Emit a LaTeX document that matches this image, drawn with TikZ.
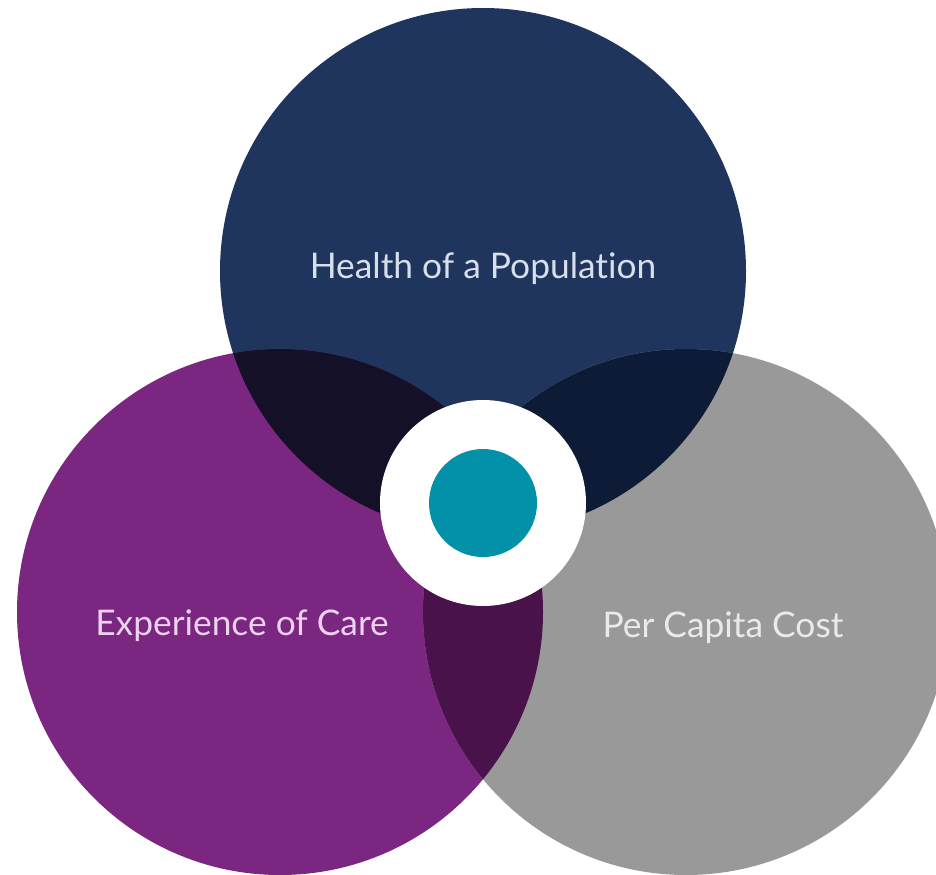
\documentclass[tikz,border=0pt]{standalone}
\usepackage{fontspec}
\setmainfont{Lato}[Ligatures=NoCommon]
\definecolor{navy}{HTML}{1F355E}
\definecolor{plum}{HTML}{7B2680}
\definecolor{greyc}{HTML}{999999}
\definecolor{navyplum}{HTML}{141028}
\definecolor{navygrey}{HTML}{0E1B36}
\definecolor{plumgrey}{HTML}{49124B}
\definecolor{teal}{HTML}{0291A8}
\definecolor{txtnavy}{HTML}{D8DFEA}
\definecolor{txtplum}{HTML}{EBD3EE}
\definecolor{txtgrey}{HTML}{EAEAEA}
\begin{document}
\begin{tikzpicture}[x=0.75pt,y=-0.75pt,
  bigc/.style={circle,minimum size=394.5pt,inner sep=0pt,draw=none},
  lbl/.style={anchor=base,font=\fontsize{26.5}{30}\selectfont,inner sep=0pt}]
\useasboundingbox (0,0) rectangle (936,875);
\fill[white] (0,0) rectangle (936,875);
\node[bigc,fill=navy] (health) at (483,271) {};
\node[bigc,fill=plum] (care) at (280,612) {};
\node[bigc,fill=greyc] (cost) at (686,612) {};
\begin{scope}
  \clip (health.center) circle[radius=197.25pt];
  \fill[navyplum] (care.center) circle[radius=197.25pt];
\end{scope}
\begin{scope}
  \clip (health.center) circle[radius=197.25pt];
  \fill[navygrey] (cost.center) circle[radius=197.25pt];
\end{scope}
\begin{scope}
  \clip (care.center) circle[radius=197.25pt];
  \fill[plumgrey] (cost.center) circle[radius=197.25pt];
\end{scope}
\node[circle,fill=white,minimum size=154.5pt,inner sep=0pt] (ring) at (483,503) {};
\node[circle,fill=teal,minimum size=81pt,inner sep=0pt] (core) at (ring.center) {};
\node[lbl,text=txtnavy] (th) at (483,278) {Health of a Population};
\node[lbl,text=txtplum] (tc) at (242,635) {Experience of Care};
\node[lbl,text=txtgrey] (tg) at (723,637) {Per Capita Cost};
\end{tikzpicture}
\end{document}
